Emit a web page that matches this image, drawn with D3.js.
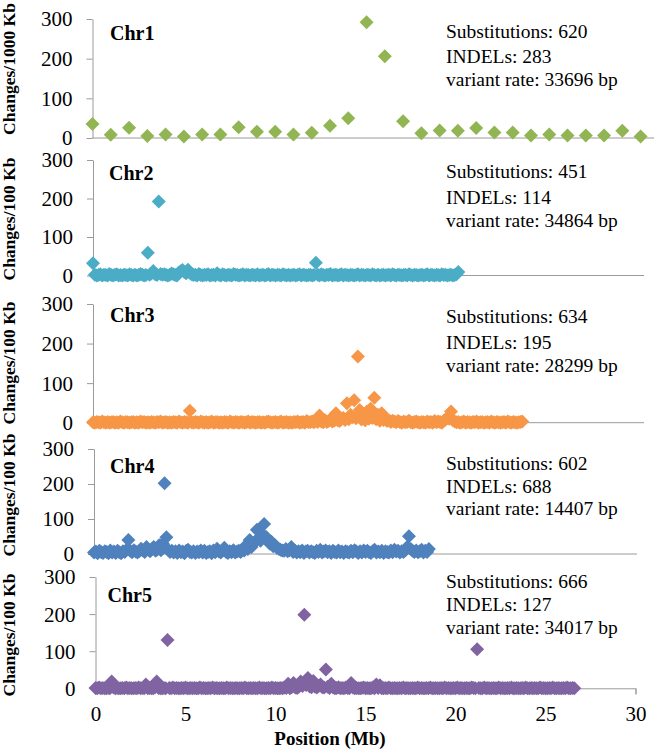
<!DOCTYPE html>
<html><head><meta charset="utf-8">
<script src="https://cdn.jsdelivr.net/npm/d3@7"></script>
<style>html,body{margin:0;padding:0;background:#fff;} svg{display:block;}</style>
</head><body><svg id="chart" width="654" height="756"></svg>
<script>
// ---------------- DATA ----------------
const chromosomes = ["Chr1", "Chr2", "Chr3", "Chr4", "Chr5"];
const substitutions = [620, 451, 634, 602, 666];
const indels = [283, 114, 195, 688, 127];
const variantRates = [33696, 34864, 28299, 14407, 34017];
const yTitles = ["Changes/1000 Kb", "Changes/100 Kb", "Changes/100 Kb", "Changes/100 Kb", "Changes/100 Kb"];
const yTicks = [0, 100, 200, 300];
const xTicks = [0, 5, 10, 15, 20, 25, 30];
const xTitle = "Position (Mb)";

// Chr1: one value per Mb
const chr1Positions = [0,1,2,3,4,5,6,7,8,9,10,11,12,13,14,15,16,17,18,19,20,21,22,23,24,25,26,27,28,29,30];
const chr1Values = [35,8,26,5,9,4,9,9,27,16,16,9,13,31,50,292,206,42,12,19,18,25,14,14,6,9,6,6,6,18,4];

// Chr2-5: one value per 100 Kb window (window k starts at k x 0.1 Mb)
const windowMb = 0.1;
const chr2Values = [
 32,2,0,1,3,0,2,1,0,4,1,0,2,3,0,1,0,2,1,0,
 3,1,0,2,0,1,4,2,0,1,59,2,5,12,3,1,192,4,2,3,
 1,0,2,5,3,1,0,8,11,14,9,6,15,7,3,1,2,0,4,1,
 0,2,1,3,0,1,2,0,6,1,0,3,1,0,2,1,0,4,2,1,
 0,1,3,0,2,1,0,2,1,0,3,0,1,2,0,1,4,0,2,1,
 0,2,1,0,3,1,0,2,0,1,2,0,1,3,0,2,1,0,1,2,
 0,1,33,2,0,3,1,0,2,1,4,0,1,2,0,1,3,0,2,1,
 0,2,1,0,1,3,0,2,1,0,2,1,0,3,1,0,2,0,1,2,
 0,1,2,0,3,1,0,2,1,0,1,2,0,3,1,0,2,1,0,1,
 2,0,1,3,0,2,1,0,2,1,0,3,1,2,0,1,2,0,1,3,
 9];
const chr3Values = [
 1,0,2,1,0,3,1,0,2,0,1,2,0,1,0,3,1,0,2,1,
 0,1,2,0,1,0,3,1,2,0,1,0,2,1,0,2,1,3,0,1,
 2,0,1,0,2,1,0,3,1,0,2,1,0,30,1,0,2,1,0,3,
 1,0,2,0,1,3,0,1,2,0,1,0,2,1,0,3,1,0,2,1,
 0,2,1,0,1,3,0,2,1,0,1,2,0,1,0,2,3,1,0,1,
 2,0,1,3,0,1,2,0,1,0,2,1,3,0,1,2,0,4,1,2,
 3,1,5,2,18,3,1,6,2,4,8,3,5,24,6,4,10,12,7,49,
 9,20,14,57,11,167,32,8,15,6,28,10,35,12,63,9,20,5,24,7,
 10,4,6,2,5,3,1,4,2,0,3,1,2,5,1,0,2,3,1,0,
 2,1,0,3,1,2,0,4,1,3,2,0,5,8,12,10,28,6,3,1,
 2,0,1,3,0,2,1,0,2,1,3,0,1,2,0,1,2,0,3,1,
 0,2,1,0,1,2,0,3,1,0,2,1,0,1,2,3];
const chr4Values = [
 4,7,2,9,5,3,8,6,2,10,4,7,3,9,5,2,8,6,12,40,
 9,5,11,7,4,8,15,10,6,20,12,8,14,20,9,13,25,11,30,202,
 48,12,6,9,4,8,3,10,5,7,2,9,12,6,4,8,3,7,5,10,
 4,9,3,6,8,2,10,5,15,7,4,9,18,6,3,8,5,11,4,7,
 9,6,12,10,25,14,40,20,30,35,69,45,38,55,86,49,42,30,35,22,
 25,18,15,12,10,9,14,8,11,20,6,9,4,8,5,10,3,7,9,4,
 8,5,3,9,6,12,4,7,10,5,8,3,9,6,4,10,5,7,3,8,
 6,4,9,5,11,7,3,8,4,10,6,9,5,3,8,12,4,7,5,9,
 3,8,6,4,10,5,12,7,9,4,8,6,11,20,51,14,9,6,10,5,
 8,12,4,9,6,14];
const chr5Values = [
 1,0,2,0,1,0,0,1,0,18,2,0,1,0,0,1,0,2,0,1,
 0,0,1,0,2,0,1,0,10,0,1,0,0,2,18,1,0,0,1,0,
 130,1,0,2,0,1,0,0,1,0,2,0,0,1,0,1,0,0,2,0,
 1,0,0,1,0,2,0,1,0,0,1,0,0,2,0,1,0,0,1,0,
 0,1,0,2,0,0,1,0,1,0,0,2,0,1,0,0,1,0,2,0,
 1,0,0,1,0,2,1,12,0,3,14,2,1,4,18,6,198,9,28,5,
 3,20,4,2,6,10,3,2,51,4,1,12,2,0,1,3,0,1,0,2,
 1,0,14,2,0,1,0,0,1,2,0,1,0,0,2,0,10,1,8,0,
 0,1,0,2,0,0,1,0,0,1,0,2,0,1,0,0,1,0,0,2,
 0,1,0,0,1,0,2,0,0,1,0,0,1,0,2,0,1,0,0,1,
 0,2,0,1,0,0,1,0,0,2,1,0,105,1,0,0,2,0,1,0,
 0,1,0,0,2,0,1,0,0,1,0,2,0,0,1,0,0,1,0,2,
 0,0,1,0,1,0,0,2,0,1,0,0,1,0,2,0,0,1,0,0,
 1,0,2,0,0,1,0];

const colors = ["#92B553", "#4BACC6", "#F79646", "#4F81BD", "#8064A2"];

// ---------------- LAYOUT ----------------
const serif = "'Liberation Serif','Times New Roman',Times,serif";
const layout = [
  {x0: 92.5, x30: 640.6, xEnd: 654,   yTop: 19,  yZero: 138,   labelX: 110, labelY: 40,  stats: [38, 63, 86],   titleY: 69},
  {x0: 93,   x30: 641,   xEnd: 644,   yTop: 160, yZero: 275.5, labelX: 109, labelY: 180, stats: [178, 204, 227], titleY: 219},
  {x0: 93,   x30: 641,   xEnd: 644,   yTop: 304, yZero: 422.7, labelX: 110, labelY: 322, stats: [323, 349, 372], titleY: 363},
  {x0: 94,   x30: 637,   xEnd: 637,   yTop: 449, yZero: 554,   labelX: 110, labelY: 473, stats: [470, 493, 515], titleY: 495},
  {x0: 95.5, x30: 635.5, xEnd: 635.5, yTop: 577, yZero: 688.3, labelX: 107.5, labelY: 602, stats: [588, 611, 634], titleY: 635}
];

function seriesFor(i) {
  if (i === 0) return chr1Positions.map((p, k) => ({x: p, y: chr1Values[k]}));
  const vals = [chr2Values, chr3Values, chr4Values, chr5Values][i - 1];
  return vals.map((v, k) => ({x: k * windowMb, y: v}));
}

const svg = d3.select("#chart");
const axisColor = "#9a9a9a";
const diamond = "M0,-7L7,0L0,7L-7,0Z";

chromosomes.forEach((chr, i) => {
  const L = layout[i];
  const x = d3.scaleLinear().domain([0, 30]).range([L.x0, L.x30]);
  const y = d3.scaleLinear().domain([0, 300]).range([L.yZero, L.yTop]);
  const g = svg.append("g");

  // y axis
  const ya = g.append("g").attr("transform", `translate(${L.x0},0)`)
    .call(d3.axisLeft(y).tickValues(yTicks).tickSize(6).tickSizeOuter(0).tickPadding(14).tickFormat(d3.format("d")));
  ya.select(".domain").attr("stroke", axisColor);
  ya.selectAll(".tick line").attr("stroke", axisColor);
  ya.selectAll(".tick text").attr("font-family", serif).attr("font-size", 21).attr("fill", "#000").attr("dy", "0.33em");

  // x axis
  if (i < 4) {
    g.append("line").attr("x1", L.x0).attr("x2", L.xEnd).attr("y1", y(0)).attr("y2", y(0))
      .attr("stroke", axisColor);
  } else {
    const xa = g.append("g").attr("transform", `translate(0,${y(0)})`)
      .call(d3.axisBottom(x).tickValues(xTicks).tickSize(6).tickSizeOuter(6).tickPadding(12));
    xa.select(".domain").attr("stroke", axisColor);
    xa.selectAll(".tick line").attr("stroke", axisColor);
    xa.selectAll(".tick text").attr("font-family", serif).attr("font-size", 21).attr("fill", "#000");
    svg.append("text").attr("x", 330).attr("y", 745).attr("text-anchor", "middle")
      .attr("font-family", serif).attr("font-weight", "bold").attr("font-size", 19).text(xTitle);
  }

  // markers
  g.append("g").selectAll("path").data(seriesFor(i)).join("path")
    .attr("d", diamond)
    .attr("transform", d => `translate(${x(d.x)},${y(d.y)})`)
    .attr("fill", colors[i]);

  // chromosome label
  g.append("text").attr("x", L.labelX).attr("y", L.labelY)
    .attr("font-family", serif).attr("font-weight", "bold").attr("font-size", 20).text(chr);

  // stats
  const lines = [`Substitutions: ${substitutions[i]}`, `INDELs: ${indels[i]}`, `variant rate: ${variantRates[i]} bp`];
  lines.forEach((t, k) => {
    g.append("text").attr("x", 446).attr("y", L.stats[k])
      .attr("font-family", serif).attr("font-size", 19.5).attr("fill", "#000").text(t);
  });

  // y title
  g.append("text")
    .attr("transform", `translate(14.5,${L.titleY}) rotate(-90)`)
    .attr("text-anchor", "middle")
    .attr("font-family", serif).attr("font-weight", "bold").attr("font-size", 17.5)
    .text(yTitles[i]);
});
</script>
</body></html>
